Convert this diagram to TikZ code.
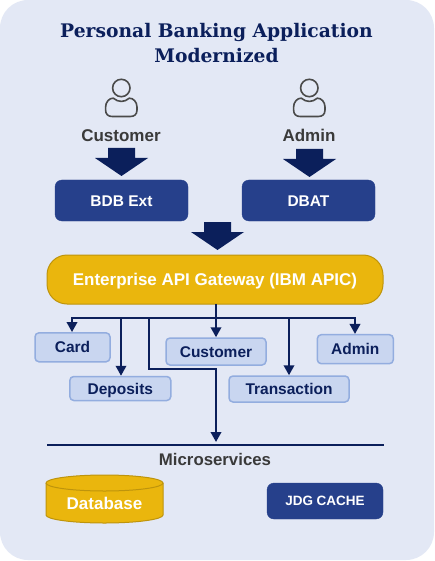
\documentclass[tikz,border=0pt]{standalone}
\usepackage{fontspec}
\setmainfont{Liberation Sans}
\newfontfamily\titlefont{DejaVu Serif}
\usetikzlibrary{arrows.meta}
\definecolor{bgc}{HTML}{E3E8F5}
\definecolor{navy}{HTML}{0B1F5B}
\definecolor{boxc}{HTML}{26408B}
\definecolor{gold}{HTML}{EAB60D}
\definecolor{golde}{HTML}{BE940C}
\definecolor{lightb}{HTML}{C9D6F0}
\definecolor{lighte}{HTML}{93ADDF}
\definecolor{graytxt}{HTML}{3A3A3A}
\definecolor{iconc}{HTML}{4A4A4A}
\newcommand{\fsz}[1]{\fontsize{#1}{#1}\selectfont\bfseries}
\newcommand{\bigarrow}[2]{\fill[navy] (#1-13.5,#2) -- (#1+13.5,#2) -- (#1+13.5,#2+10) -- (#1+26.5,#2+10) -- (#1,#2+28) -- (#1-26.5,#2+10) -- (#1-13.5,#2+10) -- cycle;}
\newcommand{\person}[1]{\draw[iconc,line width=1.6pt] (#1,88) circle (8.7);
 \draw[iconc,line width=1.6pt] (#1-8,98.2) .. controls (#1-3,102.5) and (#1+3,102.5) .. (#1+8,98.2) .. controls (#1+12,98) and (#1+15.7,102) .. (#1+15.7,107) -- (#1+15.7,110) .. controls (#1+15.7,114.5) and (#1+13,116.5) .. (#1+9,116.5) -- (#1-9,116.5) .. controls (#1-13,116.5) and (#1-15.7,114.5) .. (#1-15.7,110) -- (#1-15.7,107) .. controls (#1-15.7,102) and (#1-12,98) .. (#1-8,98.2) -- cycle;}
\tikzset{x=1pt,y=-1pt,
 tb/.style={text height=#1,text depth=0pt},
 darkbox/.style={draw=boxc,fill=boxc,rounded corners=7pt,text=white,inner sep=0pt,anchor=center},
 svc/.style={draw=lighte,fill=lightb,line width=1.5pt,rounded corners=4pt,text=navy,inner sep=0pt,font=\fsz{15.5},tb=11.2pt},
 link/.style={draw=navy,line width=2pt},
 linka/.style={link,-{Triangle[length=10pt,width=10.5pt]}},
 lbl/.style={text=graytxt,inner sep=0pt}}
\begin{document}
\begin{tikzpicture}
\useasboundingbox (0,0) rectangle (434,561);
\fill[white] (0,0) rectangle (434,561);
\fill[bgc,rounded corners=28pt] (0,0) rectangle (434,560);
\node[text=navy,align=center,inner sep=0pt,font=\titlefont\fsz{18.7}] (title) at (216.5,43) {Personal Banking Application\\[6.5pt]Modernized};
\person{121.3}
\person{309.3}
\node[lbl,font=\fsz{17},tb=12.2pt] (cust) at (121,135) {Customer};
\node[lbl,font=\fsz{17},tb=12.2pt] (adm) at (309,135) {Admin};
\bigarrow{121.5}{148}
\bigarrow{309.5}{149}
\bigarrow{217.5}{222}
\node[darkbox,minimum width=133pt,minimum height=41pt,font=\fsz{15.5},tb=11.2pt] (bdb) at (121.5,200.5) {BDB Ext};
\node[darkbox,minimum width=133pt,minimum height=41pt,font=\fsz{15.5},tb=11.2pt] (dbat) at (308.5,200.5) {DBAT};
\node[draw=golde,fill=gold,line width=1pt,rounded corners=20pt,text=white,inner sep=0pt,minimum width=336pt,minimum height=49pt,font=\fsz{17},tb=12.2pt] (gw) at (215,279.5) {Enterprise API Gateway (IBM APIC)};
\node[svc,minimum width=75pt,minimum height=29pt] (card) at (72.5,347.3) {Card};
\node[svc,minimum width=101pt,minimum height=24pt] (dep) at (120.3,388.5) {Deposits};
\node[svc,minimum width=100pt,minimum height=27pt] (csvc) at (216,351.5) {Customer};
\node[svc,minimum width=120pt,minimum height=26pt] (tx) at (289,389) {Transaction};
\node[svc,minimum width=76pt,minimum height=29pt] (asvc) at (355.3,349.2) {Admin};
\coordinate (top) at (216,304);
\coordinate (bus) at (216,318);
\coordinate (busl) at (72,318);
\coordinate (busr) at (355,318);
\coordinate (busd) at (121,318);
\coordinate (bust) at (289,318);
\coordinate (busm) at (149,318);
\coordinate (mid1) at (149,369);
\coordinate (mid2) at (216,369);
\coordinate (end) at (216,442);
\draw[link,line cap=rect] (busl) -- (busr);
\draw[linka] (top) -- (bus) -- (csvc.north -| bus);
\draw[linka] (busl) -- (card.north -| busl);
\draw[linka] (busr) -- (asvc.north -| busr);
\draw[linka] (busd) -- (dep.north -| busd);
\draw[linka] (bust) -- (tx.north);
\draw[linka] (busm) -- (mid1) -- (mid2) -- (end);
\coordinate (ml) at (47,445);
\coordinate (mr) at (384,445);
\draw[navy,line width=2pt] (ml) -- (mr);
\node[lbl,font=\fsz{16.8},tb=12.1pt] (ms) at (215,459.5) {Microservices};
\draw[draw=golde,fill=gold,line width=1pt] (46,483) -- (46,515) arc[start angle=180,end angle=360,x radius=58.5,y radius=-8] -- (163,483) arc[start angle=0,end angle=180,x radius=58.5,y radius=-8] -- cycle;
\draw[draw=golde,line width=1pt] (46,483) arc[start angle=180,end angle=360,x radius=58.5,y radius=-8];
\node[text=white,inner sep=0pt,font=\fsz{17},tb=12.2pt] (db) at (104.5,503) {Database};
\node[darkbox,minimum width=116pt,minimum height=36pt,font=\fsz{13.5},tb=9.7pt] (jdg) at (325,501) {JDG CACHE};
\end{tikzpicture}
\end{document}
